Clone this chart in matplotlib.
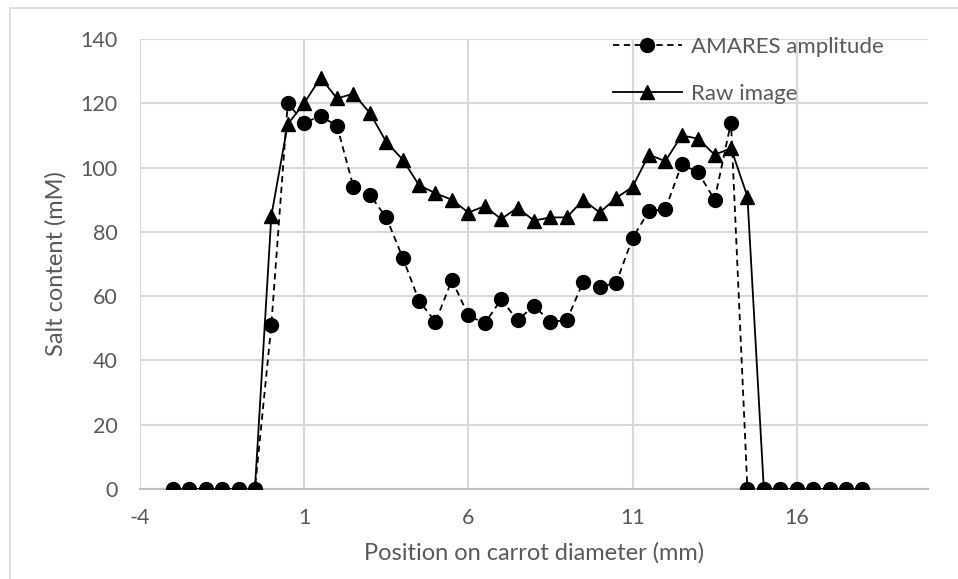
import numpy as np
import matplotlib
matplotlib.use("Agg")
from matplotlib import pyplot as plt
from matplotlib.patches import Rectangle

# position along the carrot diameter, 0.5 mm steps
position = np.arange(-3, 18.01, 0.5)

amares = [0, 0, 0, 0, 0, 0,
          51, 120, 114, 116, 113, 94, 91.5, 84.5, 72, 58.5, 52, 65, 54, 51.5,
          59, 52.5, 57, 52, 52.5, 64.5, 63, 64, 78, 86.5, 87, 101, 98.5, 90, 114,
          0, 0, 0, 0, 0, 0, 0, 0]

raw = [0, 0, 0, 0, 0, 0,
       85, 113.5, 120, 128, 121.5, 123, 117, 108, 102.5, 94.5, 92, 90, 86, 88,
       84, 87.5, 83.5, 84.5, 84.5, 90, 86, 90.5, 94, 104, 102, 110, 109, 104, 106,
       91, 0, 0, 0, 0, 0, 0, 0]

xticks = [-4, 1, 6, 11, 16]
yticks = [0, 20, 40, 60, 80, 100, 120, 140]

plt.rcParams['font.family'] = ['Lato', 'DejaVu Sans']
plt.rcParams['axes.unicode_minus'] = False
grey_txt = '#595959'

fig = plt.figure(figsize=(9.58, 5.79), dpi=100)
ax = fig.add_axes([140/958, 1 - 489/579, (928 - 140)/958, (489 - 39)/579])

# chart border like the spreadsheet frame
fig.patches.append(Rectangle((10/958, -0.05), 1.0, 1 - 8/579 + 0.05,
                             transform=fig.transFigure, fill=False,
                             edgecolor='#d9d9d9', linewidth=1.2))

ax.plot(position, amares, linestyle=(0, (3.5, 2.5)), color='black', linewidth=1.3,
        marker='o', markersize=10, label='AMARES amplitude', zorder=3)
ax.plot(position, raw, linestyle='-', color='black', linewidth=1.3,
        marker='^', markersize=10, label='Raw image', zorder=4)

ax.set_xlim(-4, 20)
ax.set_ylim(0, 140)
ax.set_xticks(xticks)
ax.set_yticks(yticks)
ax.grid(True, color='#d9d9d9', linewidth=1.5)
ax.set_axisbelow(True)
for s in ['top', 'right', 'left']:
    ax.spines[s].set_visible(False)
ax.spines['bottom'].set_color('#bfbfbf')
ax.spines['bottom'].set_linewidth(1.5)
ax.tick_params(length=0, labelsize=15.5, labelcolor=grey_txt)
ax.tick_params(axis='x', pad=14)
ax.tick_params(axis='y', pad=16)

ax.set_xlabel('Position on carrot diameter (mm)', fontsize=17, color=grey_txt, labelpad=10)
ax.set_ylabel('Salt content (mM)', fontsize=17, color=grey_txt, labelpad=10)

ax.legend(loc='upper left', bbox_to_anchor=(593/958, 1 - 17/579),
          bbox_transform=fig.transFigure, frameon=False, fontsize=16,
          handlelength=3.1, handletextpad=0.4, labelspacing=1.2,
          labelcolor=grey_txt)

fig.savefig('out.png', dpi=100)
